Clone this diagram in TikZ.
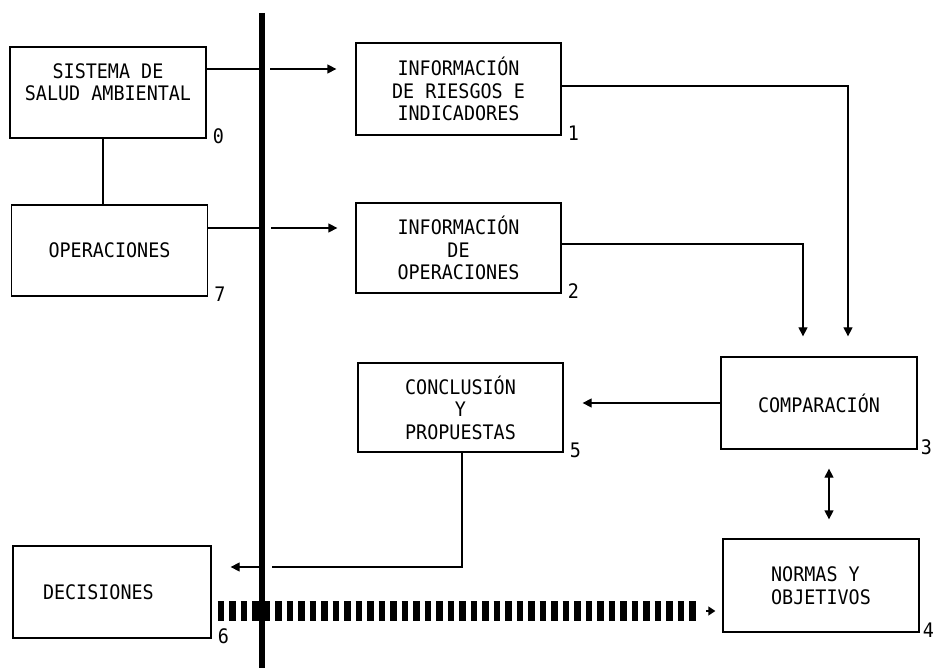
\documentclass[tikz,border=0pt]{standalone}
\usepackage{fontspec}
\setmainfont[FakeStretch=0.92]{DejaVu Sans Mono}
\usetikzlibrary{arrows.meta,positioning,calc}
\newcommand\letra{\fontsize{20pt}{22.5pt}\selectfont}

\begin{document}
\begin{tikzpicture}[x=1pt,y=-1pt,
  caja/.style={draw,line width=1.3pt,minimum width=196pt,minimum height=91pt,inner sep=0pt,align=center,font=\letra},
  num/.style={anchor=south west,inner sep=0pt,font=\letra,xshift=6pt,yshift=-5pt},
  linea/.style={line width=1.3pt},
  flecha/.style={line width=1.3pt,-{Triangle[width=9pt,length=9pt]}},
  doble/.style={line width=1.3pt,{Triangle[width=9pt,length=9pt]}-{Triangle[width=9pt,length=9pt]}},
  barra/.style={line width=20pt,dash pattern=on 6.5pt off 5pt},
  eje/.style={line width=6.5pt}]
\useasboundingbox (0,0) rectangle (937,668);
\node[caja,text depth=21pt,label={[num]south east:0}] (n0) at (108,92.5) {SISTEMA DE\\SALUD AMBIENTAL};
\node[caja,label={[num]south east:7}] (n7) at (109.5,250.5) {OPERACIONES};
\node[caja,minimum width=205pt,minimum height=92pt,label={[num]south east:1}] (n1) at (458.5,89) {INFORMACIÓN\\DE RIESGOS E\\INDICADORES};
\node[caja,minimum width=205pt,minimum height=90pt,label={[num]south east:2}] (n2) at (458.5,248) {INFORMACIÓN\\DE\\OPERACIONES};
\node[caja,minimum height=92pt,label={[num,xshift=-3pt]south east:3}] (n3) at (819,403) {COMPARACIÓN};
\node[caja,minimum height=93pt,align=left,label={[num,xshift=-3pt]south east:4}] (n4) at (821,585.5) {NORMAS Y\\OBJETIVOS};
\node[caja,minimum width=205pt,minimum height=89pt,label={[num]south east:5}] (n5) at (460.5,407.5) {CONCLUSIÓN\\Y\\PROPUESTAS};
\node[caja,minimum width=198pt,minimum height=92pt,text width=138pt,align=left,label={[num]south east:6}] (n6) at (112,592) {DECISIONES};
% eje vertical
\coordinate (ejeA) at (262,13);
\coordinate (ejeB) at (262,668);
\draw[eje] (ejeA) -- (ejeB);
% salidas hacia el eje
\coordinate (s0) at ([yshift=23.5pt]n0.east);
\coordinate (s7) at ([yshift=22.5pt]n7.east);
\draw[linea] (s0) -- (s0 -| ejeA);
\draw[flecha] ($(s0 -| ejeA)+(8,0)$) -- ($(s0 -| n1.west)+(-19,0)$);
\draw[linea] (s7) -- (s7 -| ejeA);
\draw[flecha] ($(s7 -| ejeA)+(9,0)$) -- ($(s7 -| n2.west)+(-18,0)$);
\draw[linea] ([xshift=-5pt]n0.south) -- ([xshift=-5pt]n0.south |- n7.north);
% hacia comparacion
\draw[flecha] ([yshift=3pt]n1.east) -| ([xshift=29pt,yshift=20pt]n3.north);
\draw[flecha] ([yshift=4pt]n2.east) -| ([xshift=-16pt,yshift=20pt]n3.north);
\draw[flecha] (n3.west) -- ($(n3.west -| n5.east)+(19,0)$);
\draw[doble] ($(n3.south)+(10,19)$) -- ($(n4.north)+(8,-19)$);
% conclusion a decisiones
\coordinate (r6) at ([yshift=25pt]n6.east);
\draw[linea] ([xshift=1.5pt]n5.south) |- ($(r6 -| ejeA)+(10,0)$);
\draw[flecha] (r6 -| ejeA) -- ($(r6)+(19,0)$);
% decisiones a normas
\coordinate (p6) at ([xshift=6pt,yshift=-19pt]n6.east);
\draw[barra] (p6) -- ($(p6 -| n4.west)+(-22,0)$);
\draw[line width=1.3pt,-{Triangle[width=9pt,length=7pt]}] ($(p6 -| n4.west)+(-16,0)$) -- ($(p6 -| n4.west)+(-7,0)$);
\end{tikzpicture}
\end{document}
